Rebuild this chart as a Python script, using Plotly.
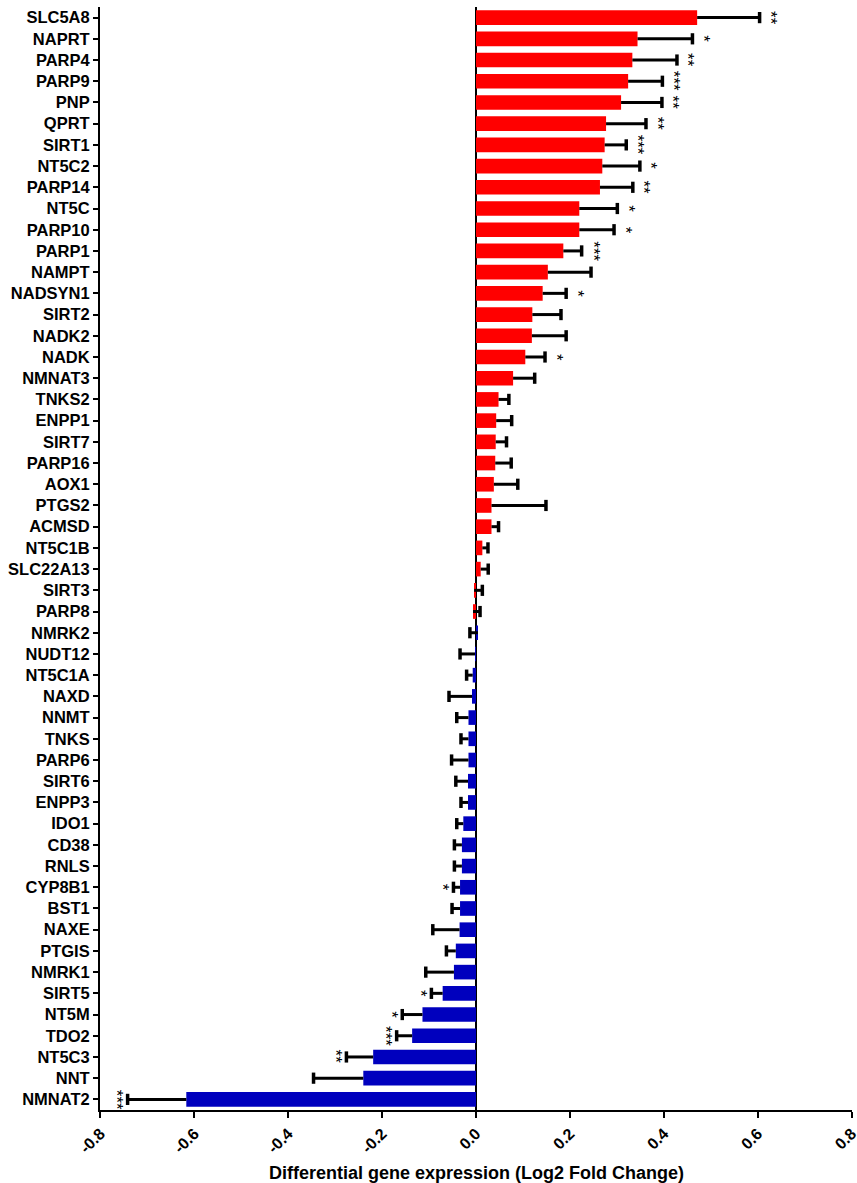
import plotly.graph_objects as go

# NAD+ metabolism genes, ordered from most up- to most down-regulated
genes = [
    "SLC5A8", "NAPRT", "PARP4", "PARP9", "PNP", "QPRT", "SIRT1", "NT5C2",
    "PARP14", "NT5C", "PARP10", "PARP1", "NAMPT", "NADSYN1", "SIRT2", "NADK2",
    "NADK", "NMNAT3", "TNKS2", "ENPP1", "SIRT7", "PARP16", "AOX1", "PTGS2",
    "ACMSD", "NT5C1B", "SLC22A13", "SIRT3", "PARP8",
    "NMRK2", "NUDT12", "NT5C1A", "NAXD", "NNMT", "TNKS", "PARP6", "SIRT6",
    "ENPP3", "IDO1", "CD38", "RNLS", "CYP8B1", "BST1", "NAXE", "PTGIS",
    "NMRK1", "SIRT5", "NT5M", "TDO2", "NT5C3", "NNT", "NMNAT2",
]

# Mean log2 fold change
log2fc = [
    0.471, 0.344, 0.333, 0.324, 0.309, 0.277, 0.274, 0.269,
    0.264, 0.220, 0.220, 0.186, 0.153, 0.142, 0.120, 0.119,
    0.105, 0.079, 0.048, 0.043, 0.042, 0.041, 0.038, 0.033,
    0.033, 0.0135, 0.010, -0.004, -0.0064,
    0.004, -0.002, -0.007, -0.0085, -0.016, -0.016, -0.016, -0.017,
    -0.017, -0.027, -0.030, -0.030, -0.034, -0.034, -0.035, -0.043,
    -0.047, -0.071, -0.114, -0.136, -0.219, -0.240, -0.617,
]

# Standard error of the mean
sem = [
    0.133, 0.117, 0.095, 0.073, 0.087, 0.085, 0.046, 0.080,
    0.070, 0.081, 0.074, 0.039, 0.092, 0.050, 0.061, 0.073,
    0.042, 0.046, 0.022, 0.033, 0.023, 0.034, 0.051, 0.116,
    0.015, 0.012, 0.016, 0.0175, 0.015,
    0.017, 0.032, 0.013, 0.049, 0.025, 0.016, 0.036, 0.026,
    0.015, 0.014, 0.016, 0.016, 0.014, 0.017, 0.057, 0.020,
    0.060, 0.024, 0.043, 0.033, 0.057, 0.106, 0.125,
]

# Regulation group (sets bar colour and error-bar side)
regulation = ["up"] * 29 + ["down"] * 23

# Significance marks
significance = [
    "**", "*", "**", "***", "**", "**", "***", "*",
    "**", "*", "*", "***", "", "*", "", "",
    "*", "", "", "", "", "", "", "",
    "", "", "", "", "",
    "", "", "", "", "", "", "", "",
    "", "", "", "", "*", "", "", "",
    "", "*", "*", "***", "**", "", "***",
]

x_ticks = [-0.8, -0.6, -0.4, -0.2, 0.0, 0.2, 0.4, 0.6, 0.8]
x_tick_text = ["-0.8", "-0.6", "-0.4", "-0.2", "0.0", "0.2", "0.4", "0.6", "0.8"]

FONT = "Liberation Sans, Arial, sans-serif"
RED = "#FF0000"
BLUE = "#0000BE"

colors = [RED if r == "up" else BLUE for r in regulation]
sign = [1 if r == "up" else -1 for r in regulation]
err_end = [v + s * e for v, s, e in zip(log2fc, sign, sem)]

fig = go.Figure()

fig.add_trace(go.Bar(
    x=log2fc, y=genes, orientation="h",
    marker=dict(color=colors, line=dict(width=0)),
    showlegend=False, hoverinfo="x+y",
))

# One-sided error bars: stem from bar tip to mean ± SEM
ex, ey = [], []
for g, v, e in zip(genes, log2fc, err_end):
    ex += [v, e, None]
    ey += [g, g, None]
fig.add_trace(go.Scatter(
    x=ex, y=ey, mode="lines",
    line=dict(color="black", width=3),
    showlegend=False, hoverinfo="skip",
))
# end caps
fig.add_trace(go.Scatter(
    x=err_end, y=genes, mode="markers",
    marker=dict(symbol="line-ns-open", size=8, color="black",
                line=dict(color="black", width=3.5)),
    showlegend=False, hoverinfo="skip",
))

# significance asterisks beyond the error bars
for g, e, s, mark in zip(genes, err_end, sign, significance):
    if mark:
        fig.add_annotation(
            x=e, y=g, text=mark, showarrow=False,
            xshift=11 * s, yshift=0, textangle=90,
            font=dict(family=FONT, size=17, color="black"),
            xanchor="center", yanchor="middle",
        )

fig.add_annotation(
    x=0.5, y=-0.057, xref="paper", yref="paper",
    text="Differential gene expression (Log2 Fold Change)",
    showarrow=False, xanchor="center", yanchor="middle",
    font=dict(family=FONT, size=18, color="black", weight="bold"),
)

fig.update_layout(
    width=857, height=1183,
    margin=dict(l=100, r=5, t=7, b=73, autoexpand=False),
    paper_bgcolor="white", plot_bgcolor="white",
    bargap=0.31,
    font=dict(family=FONT, color="black"),
    xaxis=dict(
        range=[-0.8008, 0.8008], tickvals=x_ticks, ticktext=x_tick_text,
        tickangle=-45, ticks="outside", ticklen=6, tickwidth=2,
        tickcolor="black", showline=True, linecolor="black", linewidth=2,
        showgrid=False, zeroline=True, zerolinecolor="black",
        zerolinewidth=2, ticklabeloverflow="allow", automargin=False,
        tickfont=dict(family=FONT, size=16, color="black", weight="bold"),
    ),
    yaxis=dict(
        type="category", categoryorder="array", categoryarray=genes,
        range=[len(genes) - 0.5, -0.5], automargin=False,
        ticks="outside", ticklen=5, tickwidth=2, tickcolor="black",
        showline=True, linecolor="black", linewidth=2, showgrid=False,
        tickfont=dict(family=FONT, size=16.5, color="black", weight="bold"),
    ),
)

fig.write_html("out.html")
